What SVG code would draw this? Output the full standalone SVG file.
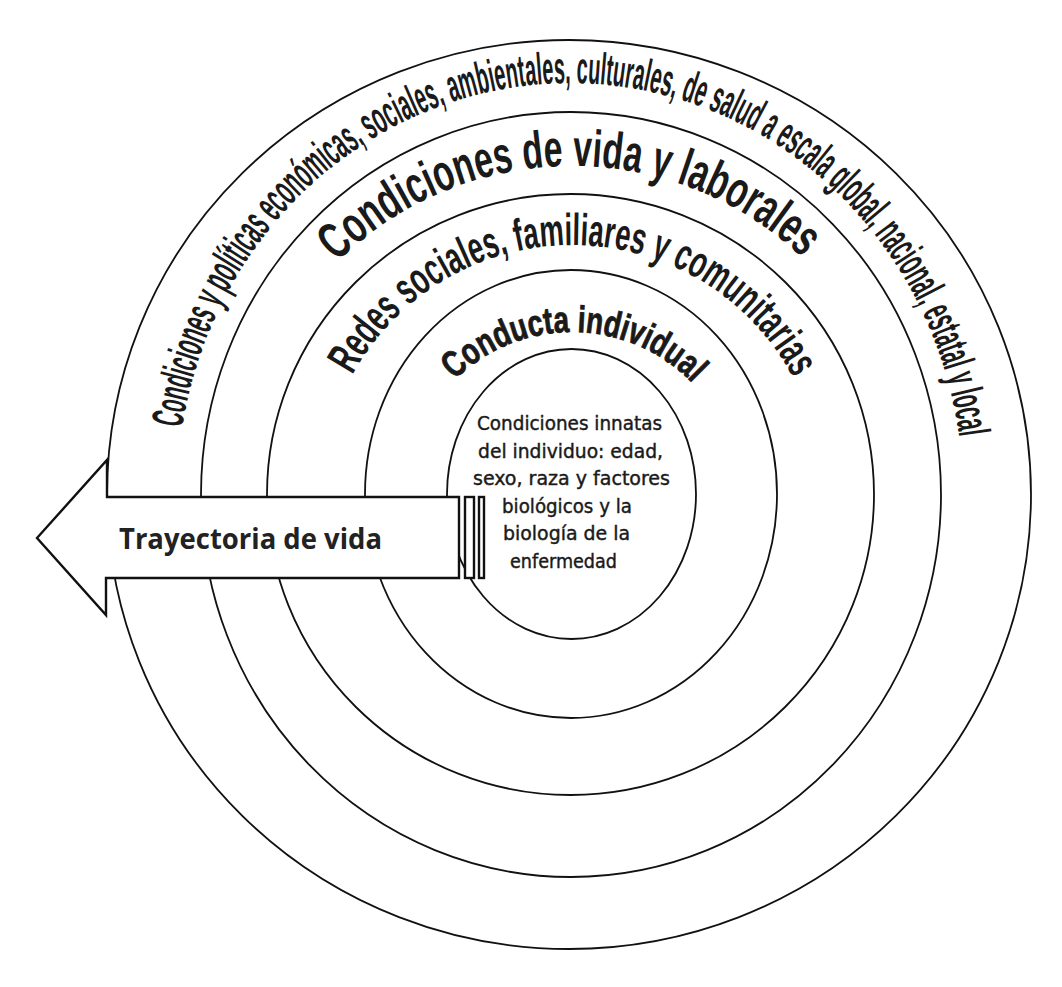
<svg xmlns="http://www.w3.org/2000/svg" width="1062" height="987" viewBox="0 0 1062 987">
<style>
.ring{fill:none;stroke:#111;stroke-width:1.8}
.arc{font-family:"Liberation Sans","Arial",sans-serif;font-weight:bold;fill:#1a1a1a}
.thick{stroke:#1a1a1a;stroke-width:0.9}
.core{font-family:"DejaVu Sans Condensed","DejaVu Sans",sans-serif;font-stretch:condensed;font-size:20px;fill:#1a1a1a;stroke:#1a1a1a;stroke-width:0.4;text-anchor:middle}
.arrowshape{fill:#fff;stroke:#111;stroke-width:2.4;stroke-linejoin:miter}
.arrowtxt{font-family:"Open Sans","Noto Sans",sans-serif;font-weight:700;font-size:29px;fill:#222}
</style>
<defs>
<path id="p1" d="M 182.1 428 A 393 411 0 0 1 962.2 520"/>
<path id="p2" d="M 337.3 262 A 332 328 0 0 1 859.5 330"/>
<path id="p3" d="M 352.4 375 A 250 249 0 0 1 816 440"/>
<path id="p4" d="M 454.8 380 A 165 162 0 0 1 727.6 440"/>
</defs>
<rect width="1062" height="987" fill="#fff"/>
<g id="ring-global">
<ellipse class="ring" cx="569" cy="494.5" rx="462" ry="454.5"/>
<text class="arc" font-size="45" textLength="1139" lengthAdjust="spacingAndGlyphs"><textPath href="#p1" textLength="1139" lengthAdjust="spacingAndGlyphs">Condiciones y políticas económicas, sociales, ambientales, culturales, de salud a escala global, nacional, estatal y local</textPath></text>
</g>
<g id="ring-vida">
<ellipse class="ring" cx="571" cy="494.5" rx="370" ry="382.5"/>
<text class="arc" font-size="52" textLength="514" lengthAdjust="spacingAndGlyphs"><textPath href="#p2" textLength="514" lengthAdjust="spacingAndGlyphs">Condiciones de vida y laborales</textPath></text>
</g>
<g id="ring-redes">
<ellipse class="ring" cx="570.5" cy="494.5" rx="303.5" ry="300.5"/>
<text class="arc" font-size="45" textLength="539" lengthAdjust="spacingAndGlyphs"><textPath href="#p3" textLength="539" lengthAdjust="spacingAndGlyphs">Redes sociales, familiares y comunitarias</textPath></text>
</g>
<g id="ring-conducta">
<ellipse class="ring" cx="571" cy="494" rx="206" ry="224"/>
<text class="arc thick" font-size="37" textLength="264" lengthAdjust="spacingAndGlyphs"><textPath href="#p4" textLength="264" lengthAdjust="spacingAndGlyphs">Conducta individual</textPath></text>
</g>
<g id="core">
<ellipse class="ring" cx="571.5" cy="494" rx="124.5" ry="145"/>
<text class="core" x="569.5" y="430" textLength="185" lengthAdjust="spacingAndGlyphs">Condiciones innatas</text>
<text class="core" x="570.5" y="457.5" textLength="185" lengthAdjust="spacingAndGlyphs">del individuo: edad,</text>
<text class="core" x="571.5" y="485" textLength="197" lengthAdjust="spacingAndGlyphs">sexo, raza y factores</text>
<text class="core" x="567" y="512.5" textLength="130" lengthAdjust="spacingAndGlyphs">biológicos y la</text>
<text class="core" x="566.5" y="540" textLength="127" lengthAdjust="spacingAndGlyphs">biología de la</text>
<text class="core" x="563.5" y="568" textLength="107" lengthAdjust="spacingAndGlyphs">enfermedad</text>
</g>
<g id="arrow">
<polygon class="arrowshape" points="37,538 107,460 107,497 459,497 459,578 106,578 106,615"/>
<rect class="arrowshape" x="465" y="497" width="9" height="81"/>
<rect class="arrowshape" x="479" y="497" width="5" height="81"/>
<text class="arrowtxt" x="119" y="549" textLength="263" lengthAdjust="spacingAndGlyphs">Trayectoria de vida</text>
</g>
</svg>
